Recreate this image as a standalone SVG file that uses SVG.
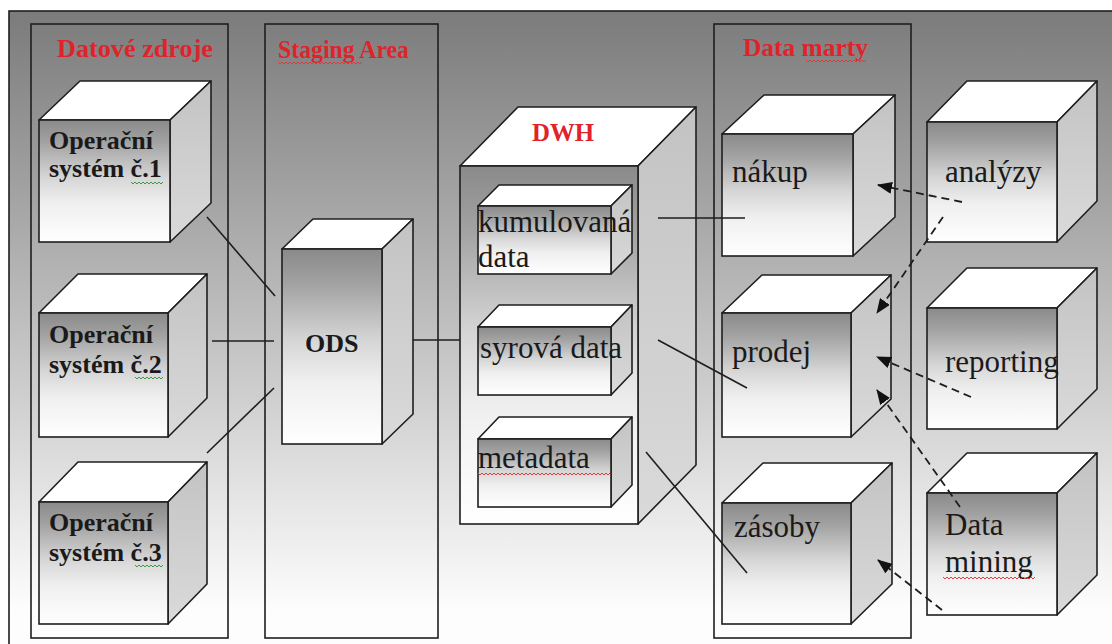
<svg xmlns="http://www.w3.org/2000/svg" width="1112" height="644" viewBox="0 0 1112 644">
  <defs>
    <!-- shared backdrop shading: grey at the top fading to white -->
    <linearGradient id="gBg" gradientUnits="userSpaceOnUse" x1="0" y1="11" x2="0" y2="610">
      <stop offset="0" stop-color="#7b7b7b"/>
      <stop offset="1" stop-color="#fdfdfd"/>
    </linearGradient>
    <!-- front face of a box -->
    <linearGradient id="gFront" x1="0" y1="0" x2="0" y2="1">
      <stop offset="0" stop-color="#8a8a8a"/>
      <stop offset="0.18" stop-color="#a2a2a2"/>
      <stop offset="0.47" stop-color="#d6d6d6"/>
      <stop offset="0.68" stop-color="#efefef"/>
      <stop offset="1" stop-color="#ffffff"/>
    </linearGradient>
    <!-- side face of a box -->
    <linearGradient id="gSide" x1="0" y1="0" x2="0" y2="1">
      <stop offset="0" stop-color="#c3c3c3"/>
      <stop offset="1" stop-color="#dadada"/>
    </linearGradient>
    <marker id="ah" viewBox="0 0 15 12" refX="14" refY="6" markerWidth="15" markerHeight="12" markerUnits="userSpaceOnUse" orient="auto">
      <path d="M0,0 L15,6 L0,12 z" fill="#111111" stroke="none"/>
    </marker>
    <style>
      .frame { fill: url(#gBg); stroke: #1e1e1e; stroke-width: 1.6; }
      .front { fill: url(#gFront); stroke: #1e1e1e; stroke-width: 1.6; }
      .top   { fill: #ffffff; stroke: #1e1e1e; stroke-width: 1.6; stroke-linejoin: round; }
      .side  { fill: url(#gSide); stroke: #1e1e1e; stroke-width: 1.6; stroke-linejoin: round; }
      .hdr   { font-family: "Liberation Serif", "DejaVu Serif", serif; font-weight: bold; font-size: 25px; fill: #e0232b; }
      .bold  { font-family: "Liberation Serif", "DejaVu Serif", serif; font-weight: bold; font-size: 26px; fill: #1a1a1a; }
      .lbl   { font-family: "Liberation Serif", "DejaVu Serif", serif; font-size: 31px; fill: #1a1a1a; }
      .line  { fill: none; stroke: #1e1e1e; stroke-width: 1.6; }
      .dash  { fill: none; stroke: #1e1e1e; stroke-width: 1.8; stroke-dasharray: 8 5; }
      .wavyG { fill: none; stroke: #3c9a3c; stroke-width: 1; }
      .wavyR { fill: none; stroke: #e03a3a; stroke-width: 1; }
    </style>
  </defs>

  <rect width="1112" height="644" fill="#ffffff"/>

  <!-- outer frame -->
  <rect id="frame" class="frame" x="9" y="11" width="1112" height="645"/>

  <!-- column: source systems -->
  <g id="col-sources">
    <rect class="frame" x="31" y="24" width="197" height="614"/>
    <text class="hdr" x="57" y="57" textLength="156" lengthAdjust="spacingAndGlyphs">Datové zdroje</text>
  </g>

  <!-- column: staging -->
  <g id="col-staging">
    <rect class="frame" x="265" y="24" width="173" height="614"/>
    <text class="hdr" x="278" y="58" textLength="131" lengthAdjust="spacingAndGlyphs">Staging Area</text>
    <path class="wavyR" d="M278,62 l2,2 2,-2 2,2 2,-2 2,2 2,-2 2,2 2,-2 2,2 2,-2 2,2 2,-2 2,2 2,-2 2,2 2,-2 2,2 2,-2 2,2 2,-2 2,2 2,-2 2,2 2,-2 2,2 2,-2 2,2 2,-2 2,2 2,-2 2,2 2,-2 2,2 2,-2 2,2 2,-2 2,2 2,-2 2,2 2,-2 2,2 2,-2"/>
  </g>

  <!-- column: data marts -->
  <g id="col-marts">
    <rect class="frame" x="714" y="24" width="197" height="614"/>
    <text class="hdr" x="743" y="56" textLength="125" lengthAdjust="spacingAndGlyphs">Data marty</text>
    <path class="wavyR" d="M806,60 l2,2 2,-2 2,2 2,-2 2,2 2,-2 2,2 2,-2 2,2 2,-2 2,2 2,-2 2,2 2,-2 2,2 2,-2 2,2 2,-2 2,2 2,-2 2,2 2,-2 2,2 2,-2 2,2 2,-2 2,2 2,-2 2,2 2,-2"/>
  </g>

  <!-- source systems -->
  <g id="os1">
    <polygon class="top" points="39,120 80,81 211,81 170,120"/>
    <polygon class="side" points="170,120 211,81 211,203 170,242"/>
    <rect class="front" x="39" y="120" width="131" height="122"/>
    <text class="bold" x="49" y="149">Operační</text>
    <text class="bold" x="49" y="177">systém č.1</text>
    <path class="wavyG" d="M131,182 l2,2 2,-2 2,2 2,-2 2,2 2,-2 2,2 2,-2 2,2 2,-2 2,2 2,-2 2,2 2,-2 2,2 2,-2"/>
  </g>
  <g id="os2">
    <polygon class="top" points="39,313 78,274 207,274 168,313"/>
    <polygon class="side" points="168,313 207,274 207,398 168,437"/>
    <rect class="front" x="39" y="313" width="129" height="124"/>
    <text class="bold" x="49" y="343">Operační</text>
    <text class="bold" x="49" y="373">systém č.2</text>
    <path class="wavyG" d="M135,377 l2,2 2,-2 2,2 2,-2 2,2 2,-2 2,2 2,-2 2,2 2,-2 2,2 2,-2 2,2 2,-2"/>
  </g>
  <g id="os3">
    <polygon class="top" points="39,502 78,462 207,462 168,502"/>
    <polygon class="side" points="168,502 207,462 207,584 168,624"/>
    <rect class="front" x="39" y="502" width="129" height="122"/>
    <text class="bold" x="49" y="531">Operační</text>
    <text class="bold" x="49" y="561">systém č.3</text>
    <path class="wavyG" d="M135,565 l2,2 2,-2 2,2 2,-2 2,2 2,-2 2,2 2,-2 2,2 2,-2 2,2 2,-2 2,2 2,-2"/>
  </g>

  <!-- operational data store -->
  <g id="ods">
    <polygon class="top" points="282,249 313,219 413,219 382,249"/>
    <polygon class="side" points="382,249 413,219 413,414 382,444"/>
    <rect class="front" x="282" y="249" width="100" height="195"/>
    <text class="bold" x="305" y="352">ODS</text>
  </g>

  <!-- data warehouse with its stores -->
  <g id="dwh">
    <polygon class="top" points="460,166 518,107 696,107 638,166"/>
    <polygon class="side" points="638,166 696,107 696,465 638,524"/>
    <rect class="front" x="460" y="166" width="178" height="358"/>
    <text class="hdr" x="532" y="141" textLength="62" lengthAdjust="spacingAndGlyphs">DWH</text>
  </g>
  <g id="dwh-cumulated">
    <polygon class="top" points="478,206 499,185 632,185 611,206"/>
    <polygon class="side" points="611,206 632,185 632,253 611,274"/>
    <rect class="front" x="478" y="206" width="133" height="68"/>
    <text class="lbl" x="478" y="232">kumulovaná</text>
    <text class="lbl" x="478" y="267">data</text>
  </g>
  <g id="dwh-raw">
    <polygon class="top" points="478,327 499,305 632,305 611,327"/>
    <polygon class="side" points="611,327 632,305 632,373 611,395"/>
    <rect class="front" x="478" y="327" width="133" height="68"/>
    <text class="lbl" x="480" y="358">syrová data</text>
  </g>
  <g id="dwh-meta">
    <polygon class="top" points="478,439 499,417 632,417 611,439"/>
    <polygon class="side" points="611,439 632,417 632,485 611,507"/>
    <rect class="front" x="478" y="439" width="133" height="68"/>
    <text class="lbl" x="478" y="468">metadata</text>
    <path class="wavyR" d="M478,473 l2,2 2,-2 2,2 2,-2 2,2 2,-2 2,2 2,-2 2,2 2,-2 2,2 2,-2 2,2 2,-2 2,2 2,-2 2,2 2,-2 2,2 2,-2 2,2 2,-2 2,2 2,-2 2,2 2,-2 2,2 2,-2 2,2 2,-2 2,2 2,-2 2,2 2,-2 2,2 2,-2 2,2 2,-2 2,2 2,-2 2,2 2,-2 2,2 2,-2 2,2 2,-2 2,2 2,-2 2,2 2,-2 2,2 2,-2 2,2 2,-2 2,2 2,-2 2,2 2,-2 2,2 2,-2 2,2 2,-2 2,2 2,-2 2,2 2,-2"/>
  </g>

  <!-- data marts -->
  <g id="dm-purchase">
    <polygon class="top" points="722,134 764,95 895,95 853,134"/>
    <polygon class="side" points="853,134 895,95 895,217 853,256"/>
    <rect class="front" x="722" y="134" width="131" height="122"/>
    <text class="lbl" x="732" y="182">nákup</text>
  </g>
  <g id="dm-sales">
    <polygon class="top" points="722,313 762,275 891,275 851,313"/>
    <polygon class="side" points="851,313 891,275 891,399 851,437"/>
    <rect class="front" x="722" y="313" width="129" height="124"/>
    <text class="lbl" x="732" y="362">prodej</text>
  </g>
  <g id="dm-stock">
    <polygon class="top" points="722,503 763,463 892,463 851,503"/>
    <polygon class="side" points="851,503 892,463 892,584 851,624"/>
    <rect class="front" x="722" y="503" width="129" height="121"/>
    <text class="lbl" x="734" y="537">zásoby</text>
  </g>

  <!-- consumers -->
  <g id="analysis">
    <polygon class="top" points="927,122 967,81 1097,81 1057,122"/>
    <polygon class="side" points="1057,122 1097,81 1097,201 1057,242"/>
    <rect class="front" x="927" y="122" width="130" height="120"/>
    <text class="lbl" x="945" y="182">analýzy</text>
  </g>
  <g id="reporting">
    <polygon class="top" points="927,308 967,268 1097,268 1057,308"/>
    <polygon class="side" points="1057,308 1097,268 1097,389 1057,429"/>
    <rect class="front" x="927" y="308" width="130" height="121"/>
    <text class="lbl" x="945" y="372">reporting</text>
  </g>
  <g id="mining">
    <polygon class="top" points="927,493 967,453 1097,453 1057,493"/>
    <polygon class="side" points="1057,493 1097,453 1097,575 1057,615"/>
    <rect class="front" x="927" y="493" width="130" height="122"/>
    <text class="lbl" x="945" y="535">Data</text>
    <text class="lbl" x="945" y="572">mining</text>
    <path class="wavyR" d="M943,577 l2,2 2,-2 2,2 2,-2 2,2 2,-2 2,2 2,-2 2,2 2,-2 2,2 2,-2 2,2 2,-2 2,2 2,-2 2,2 2,-2 2,2 2,-2 2,2 2,-2 2,2 2,-2 2,2 2,-2 2,2 2,-2 2,2 2,-2 2,2 2,-2 2,2 2,-2 2,2 2,-2 2,2 2,-2 2,2 2,-2 2,2 2,-2 2,2 2,-2 2,2 2,-2"/>
  </g>

  <!-- data flows -->
  <g id="connectors">
    <path class="line" d="M207,217 L275,296"/>
    <path class="line" d="M212,341 L274,341"/>
    <path class="line" d="M207,453 L274,388"/>
    <path class="line" d="M413,340 L460,340"/>
    <path class="line" d="M658,218 L745,218"/>
    <path class="line" d="M658,340 L747,388"/>
    <path class="line" d="M646,452 L747,573"/>
    <path class="dash" d="M962,202 L878,185" marker-end="url(#ah)"/>
    <path class="dash" d="M943,217 L877,313" marker-end="url(#ah)"/>
    <path class="dash" d="M971,397 L877,357" marker-end="url(#ah)"/>
    <path class="dash" d="M960,507 L877,390" marker-end="url(#ah)"/>
    <path class="dash" d="M942,610 L878,560" marker-end="url(#ah)"/>
  </g>
</svg>
